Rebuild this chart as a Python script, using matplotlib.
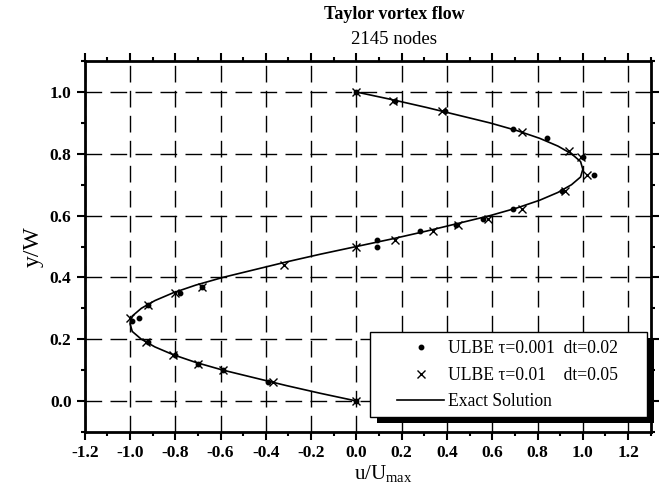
import matplotlib
matplotlib.use('Agg')
import matplotlib.pyplot as plt
from matplotlib.patches import Rectangle
from matplotlib.ticker import MultipleLocator

plt.rcParams['font.family'] = ['Liberation Serif', 'DejaVu Serif']
plt.rcParams['mathtext.fontset'] = 'custom'
plt.rcParams['mathtext.rm'] = 'Liberation Serif'

# ULBE, tau=0.001, dt=0.02
u_fine = [0.00, 0.17, 0.39, 0.69, 0.84, 1.00, 1.05, 0.91, 0.69, 0.56, 0.44, 0.28,
          0.09, 0.09, -0.68, -0.78, -0.92, -0.96, -0.99, -0.92, -0.80, -0.70,
          -0.59, -0.39, 0.00]
y_fine = [1.00, 0.97, 0.94, 0.88, 0.85, 0.79, 0.73, 0.68, 0.62, 0.59, 0.57, 0.55,
          0.52, 0.50, 0.37, 0.35, 0.31, 0.27, 0.26, 0.19, 0.15, 0.12,
          0.10, 0.06, 0.00]

# ULBE, tau=0.01, dt=0.05
u_coarse = [0.00, 0.16, 0.38, 0.73, 0.94, 0.99, 1.02, 0.92, 0.73, 0.58, 0.45, 0.34,
            0.17, 0.00, -0.32, -0.68, -0.80, -0.92, -1.00, -0.93, -0.81, -0.70,
            -0.59, -0.37, 0.00]
y_coarse = [1.00, 0.97, 0.94, 0.87, 0.81, 0.79, 0.73, 0.68, 0.62, 0.59, 0.57, 0.55,
            0.52, 0.50, 0.44, 0.37, 0.35, 0.31, 0.27, 0.19, 0.15, 0.12,
            0.10, 0.06, 0.00]

# exact profile, sampled every 0.025 in y/W
y_exact = [0.000, 0.025, 0.050, 0.075, 0.100, 0.125, 0.150, 0.175, 0.200, 0.225,
           0.250, 0.275, 0.300, 0.325, 0.350, 0.375, 0.400, 0.425, 0.450, 0.475,
           0.500, 0.525, 0.550, 0.575, 0.600, 0.625, 0.650, 0.675, 0.700, 0.725,
           0.750, 0.775, 0.800, 0.825, 0.850, 0.875, 0.900, 0.925, 0.950, 0.975,
           1.000]
u_exact = [0.00, -0.16, -0.31, -0.45, -0.59, -0.71, -0.81, -0.89, -0.95, -0.99,
           -1.00, -0.99, -0.95, -0.89, -0.81, -0.71, -0.59, -0.45, -0.31, -0.16,
           0.00, 0.16, 0.31, 0.45, 0.59, 0.71, 0.81, 0.89, 0.95, 0.99,
           1.00, 0.99, 0.95, 0.89, 0.81, 0.71, 0.59, 0.45, 0.31, 0.16,
           0.00]

x_ticks = [v / 10 for v in range(-12, 13, 2)]
y_ticks = [v / 10 for v in range(0, 11, 2)]

fig = plt.figure(figsize=(6.62, 4.97), dpi=100)
ax = fig.add_axes([0.128, 0.131, 0.855, 0.746])

ax.plot(u_fine, y_fine, ls='none', marker='o', ms=3.2, color='k',
        label='ULBE \u03c4=0.001  dt=0.02')
ax.plot(u_coarse, y_coarse, ls='none', marker='x', ms=6, mew=1.0, color='k',
        label='ULBE \u03c4=0.01    dt=0.05')
ax.plot(u_exact, y_exact, color='k', lw=1.2, label='Exact Solution')

ax.set_xlim(-1.2, 1.3)
ax.set_ylim(-0.1, 1.1)
ax.xaxis.set_minor_locator(MultipleLocator(0.1))
ax.yaxis.set_minor_locator(MultipleLocator(0.1))
ax.set_xticks(x_ticks)
ax.set_xticklabels(['%.1f' % v for v in x_ticks])
ax.set_yticks(y_ticks)
ax.set_yticklabels(['%.1f' % v for v in y_ticks])

ax.grid(True, which='major', color='k', ls=(0, (12, 6)), lw=1.0)
for s in ax.spines.values():
    s.set_linewidth(2)
ax.tick_params(which='both', direction='out', top=True, right=True,
               labeltop=False, labelright=False, width=1.5, labelsize=12.5)
ax.tick_params(which='major', length=6)
ax.tick_params(which='minor', length=3)
for lbl in ax.get_xticklabels() + ax.get_yticklabels():
    lbl.set_fontweight('bold')

ax.set_xlabel(r'u/U$_{\rm max}$', fontsize=15)
ax.xaxis.set_label_coords(0.527, -0.085)
ax.set_ylabel('y/W', fontsize=17, labelpad=4)
fig.text(0.595, 0.962, 'Taylor vortex flow', ha='center', va='baseline',
         fontsize=13, fontweight='bold')
fig.text(0.595, 0.911, '2145 nodes', ha='center', va='baseline', fontsize=13.5)

leg = ax.legend(loc='lower right', bbox_to_anchor=(0.942, 0.058),
                borderaxespad=0, borderpad=0, frameon=False,
                fontsize=12.7, handlelength=2.7, handletextpad=0.2,
                labelspacing=0.55)
leg.set_zorder(7)

# white box with a solid drop shadow behind the legend entries
fig.canvas.draw()
bb = leg.get_window_extent()
x0, y0 = bb.x0 - 27, bb.y0 - 7
w, h = bb.width + 56, bb.height + 15
ax.add_patch(Rectangle((x0 + 7, y0 - 6), w, h, transform=None,
                       facecolor='k', edgecolor='none', zorder=5,
                       clip_on=False))
ax.add_patch(Rectangle((x0, y0), w, h, transform=None, facecolor='w',
                       edgecolor='k', lw=1.0, zorder=6, clip_on=False))

fig.savefig('out.png', dpi=100)
